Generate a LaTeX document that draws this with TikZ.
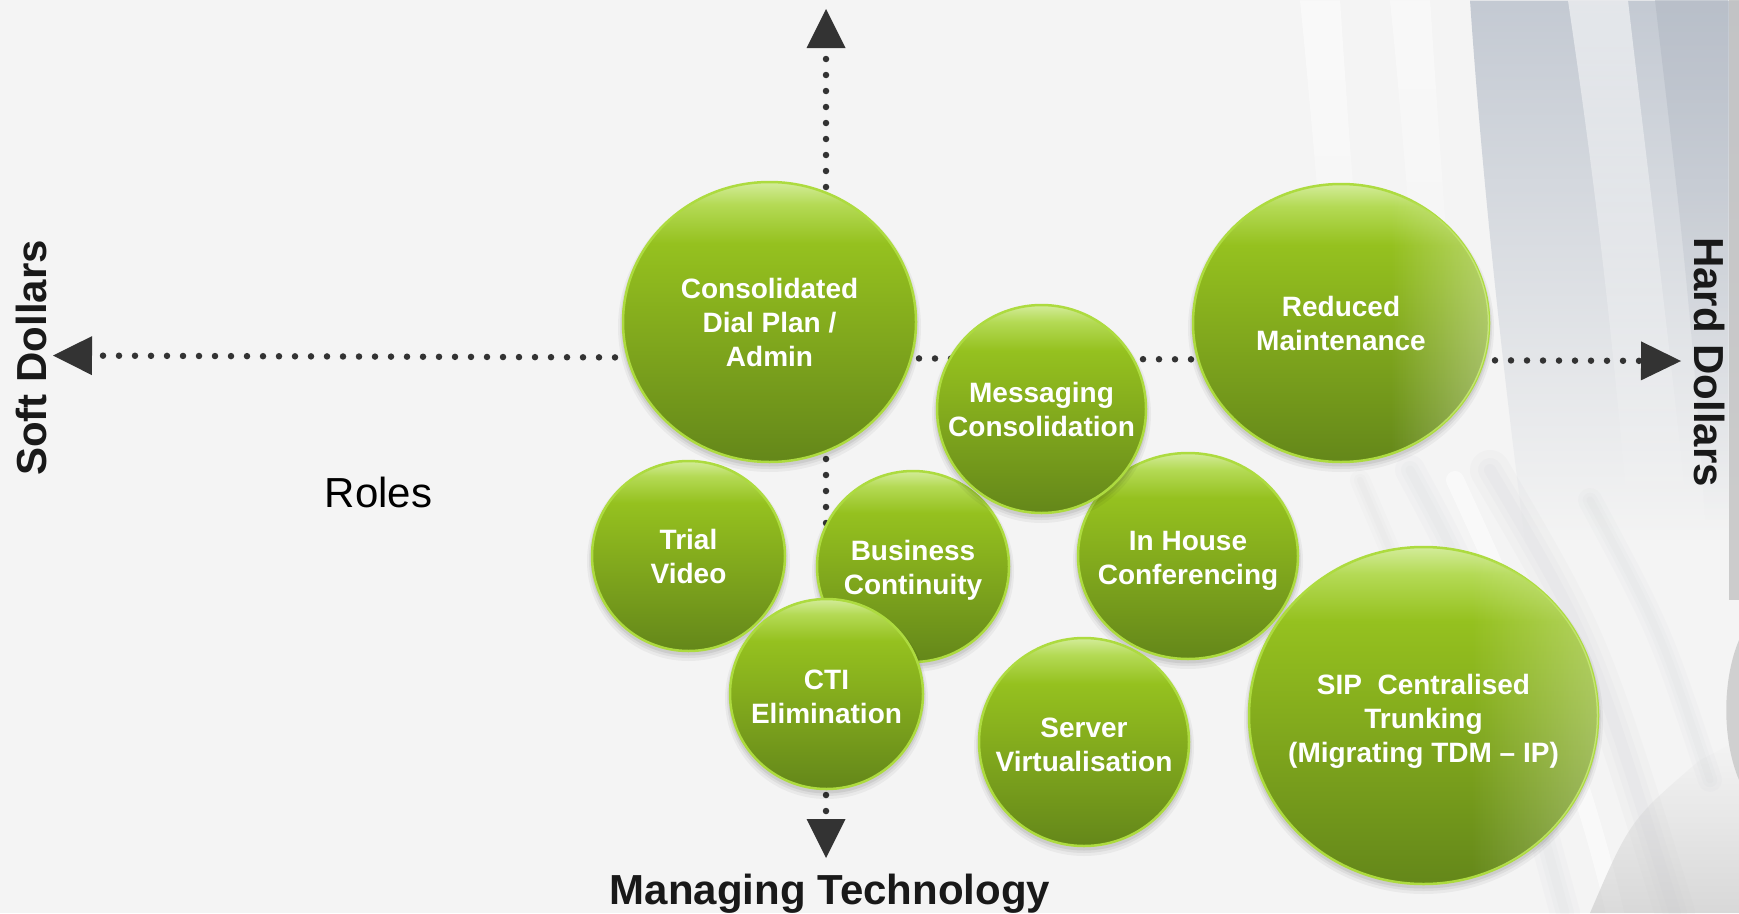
\documentclass[tikz,border=0pt]{standalone}
\usepackage{fontspec}
\setmainfont{Liberation Sans}
\usetikzlibrary{arrows.meta,shapes.geometric,fadings}
\definecolor{bg}{HTML}{F4F4F4}
\definecolor{axiscol}{HTML}{333333}
\definecolor{gtop}{HTML}{D3EC9A}
\definecolor{glight}{HTML}{B4DA55}
\definecolor{gbright}{HTML}{95C11F}
\definecolor{gmid}{HTML}{84AC1D}
\definecolor{gdark}{HTML}{64871A}
\definecolor{gborder}{HTML}{ADDB3F}
\definecolor{drapeblue}{HTML}{C4CAD3}
\definecolor{drapedark}{HTML}{AEB5C0}
\definecolor{drapegray}{HTML}{C2C2C2}
\definecolor{streak}{HTML}{9A9EA4}
\tikzfading[name=fadedown, top color=transparent!0, bottom color=transparent!100]
\tikzfading[name=fadedownb, top color=transparent!0, middle color=transparent!20, bottom color=transparent!100]
\tikzfading[name=fadeup, top color=transparent!100, bottom color=transparent!0]
\tikzfading[name=fadeleft, left color=transparent!100, right color=transparent!0]
\pgfdeclareverticalshading{bubshade}{100bp}{color(0bp)=(gdark); color(25bp)=(gdark); color(50bp)=(gmid); color(64bp)=(gbright); color(71bp)=(glight); color(75bp)=(gtop); color(100bp)=(gtop)}
\tikzset{
  bub/.style={ellipse, draw=gborder, line width=2.5pt, shade, shading=bubshade,
    inner sep=-40pt, text=white, align=center,
    font=\fontsize{28}{34}\selectfont\bfseries},
  dotaxis/.style={draw=axiscol, line width=6.5pt, line cap=round,
    dash pattern=on 0pt off 16pt, dash phase=5pt},
  axlabel/.style={inner sep=0pt, text=black!90, font=\fontsize{42}{48}\selectfont\bfseries},
  softstreak/.style={streak, line cap=round},
}
\newcommand\lift[1]{\rule{0pt}{#1pt}}
\newcommand\mybubble[6]{%
  \fill[black,opacity=0.045] (#2,#3+5) ellipse [x radius=#4+5, y radius=#5+5];
  \fill[black,opacity=0.055] (#2,#3+4) ellipse [x radius=#4+3, y radius=#5+3];
  \fill[black,opacity=0.07] (#2,#3+3) ellipse [x radius=#4+1.5, y radius=#5+1.5];
  \node[bub, minimum width=2*#4pt, minimum height=2*#5pt] (#1) at (#2,#3) {#6};
}
\newcommand\drapestreak[5]{% width, opacity, path pieces
  \draw[softstreak, line width=#1pt, opacity=#2] #3 .. controls #4 .. #5;
  \draw[softstreak, line width=#1pt*0.6, opacity=#2] #3 .. controls #4 .. #5;
  \draw[softstreak, line width=#1pt*0.3, opacity=#2] #3 .. controls #4 .. #5;
}
\begin{document}
\begin{tikzpicture}[x=1pt,y=-1pt]
\useasboundingbox (0,0) rectangle (1739,913);
\fill[bg] (0,0) rectangle (1739,913);
% ---- drape background on the right
\fill[white, opacity=.55, path fading=fadedown] (1300,0) -- (1340,0) .. controls (1350,150) and (1360,300) .. (1380,460) -- (1345,460) .. controls (1325,300) and (1315,150) .. (1300,0) -- cycle;
\fill[white, opacity=.45, path fading=fadedown] (1390,0) -- (1430,0) .. controls (1440,150) and (1450,300) .. (1465,460) -- (1430,460) .. controls (1415,300) and (1405,150) .. (1390,0) -- cycle;
\fill[drapeblue, path fading=fadedownb] (1470,0) -- (1739,0) -- (1739,540) -- (1525,540) .. controls (1500,350) and (1480,150) .. (1470,0) -- cycle;
\fill[white, opacity=.55, path fading=fadedownb] (1568,0) -- (1628,0) .. controls (1645,150) and (1665,300) .. (1690,540) -- (1630,540) .. controls (1610,300) and (1590,150) .. (1568,0) -- cycle;
\fill[drapedark, opacity=.5, path fading=fadedownb] (1655,0) -- (1728,0) -- (1728,520) -- (1705,520) .. controls (1692,300) and (1672,150) .. (1655,0) -- cycle;
\fill[drapegray, opacity=.8] (1729,0) rectangle (1739,600);
\drapestreak{30}{.035}{(1410,470)}{(1480,600)}{(1565,913)}
\drapestreak{40}{.04}{(1490,470)}{(1590,640)}{(1675,913)}
\drapestreak{24}{.035}{(1590,500)}{(1660,630)}{(1710,780)}
\drapestreak{20}{.03}{(1360,480)}{(1420,620)}{(1470,760)}
\draw[white, opacity=.5, line width=18pt, line cap=round] (1455,480) .. controls (1520,620) and (1580,760) .. (1615,913);
\fill[drapegray, opacity=.55, path fading=fadeup] (1590,913) .. controls (1630,820) .. (1700,760) -- (1739,740) -- (1739,913) -- cycle;
\fill[drapegray, opacity=.7] (1739,640) .. controls (1722,680) and (1722,740) .. (1739,780) -- cycle;
% ---- axes
\coordinate (T) at (826,9);
\coordinate (B) at (826,858);
\coordinate (L) at (53,355.5);
\coordinate (R) at (1681,361);
\draw[dotaxis, {Triangle[length=39pt,width=39pt,line width=0pt]}-{Triangle[length=39pt,width=39pt,line width=0pt]}] (T) -- (B);
\draw[dotaxis, {Triangle[length=39pt,width=39pt,line width=0pt]}-{Triangle[length=40pt,width=39pt,line width=0pt]}] (L) -- (R);
% ---- bubbles
\mybubble{cons}{769.5}{322}{146.5}{140}{Consolidated\\Dial Plan /\\Admin}
\mybubble{red}{1341}{323}{148}{139}{Reduced\\Maintenance}
\mybubble{trial}{688.5}{556}{96.5}{95}{\lift{22}Trial\\Video}
\mybubble{bus}{913}{566.5}{96}{95.5}{\lift{27}Business\\Continuity}
\mybubble{cti}{826.5}{694}{96.5}{95}{\lift{25}CTI\\Elimination}
\mybubble{inh}{1188}{556}{110}{103}{\lift{29}In House\\Conferencing}
\mybubble{msg}{1041.5}{409}{104.5}{104}{\lift{22}Messaging\\Consolidation}
\mybubble{srv}{1084}{742}{105}{104}{\lift{25}Server\\Virtualisation}
\mybubble{sip}{1423.5}{715.5}{174.5}{168.5}{\lift{31}SIP\ \ Centralised\\Trunking\\(Migrating TDM – IP)}
% ---- translucent drape over right bubbles
\begin{scope}
  \clip (red.center) ellipse [x radius=148, y radius=139];
  \fill[white, opacity=.35, path fading=fadeleft] (1390,180) rectangle (1492,465);
\end{scope}
\begin{scope}
  \clip (sip.center) ellipse [x radius=174.5, y radius=168.5];
  \fill[white, opacity=.3, path fading=fadeleft] (1470,545) rectangle (1600,886);
\end{scope}
% ---- labels
\node[axlabel, rotate=90] (soft) at (31,358) {Soft Dollars};
\node[axlabel, rotate=-90] (hard) at (1709,362) {Hard Dollars};
\node[axlabel, anchor=base] (mt) at (830,904) {Managing Technology};
\node[inner sep=0pt, text=black, font=\fontsize{42}{48}\selectfont, anchor=base] (roles) at (378.5,507) {Roles};
\end{tikzpicture}
\end{document}
